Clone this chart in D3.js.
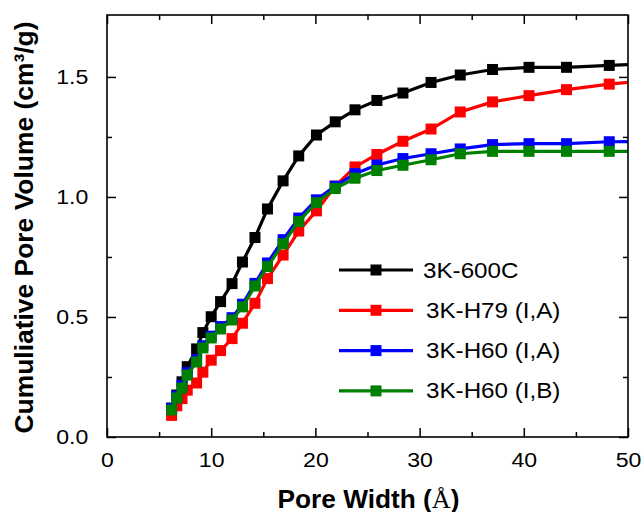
<!DOCTYPE html>
<html>
<head>
<meta charset="utf-8">
<script src="https://cdn.jsdelivr.net/npm/d3@7"></script>
<style>
  body { margin: 0; background: #fff; }
  svg { display: block; font-family: "Liberation Sans", Arial, sans-serif; }
</style>
</head>
<body>
<svg id="chart" width="643" height="512"></svg>
<script>
// pore width bins (Angstrom), shared by all samples
var poreWidth = [6.2, 6.7, 7.2, 7.7, 8.6, 9.2, 10.0, 10.9, 12.0, 13.0, 14.2, 15.4, 16.9, 18.4,
  20.1, 21.9, 23.8, 25.9, 28.4, 31.1, 33.9, 37.0, 40.5, 44.1, 48.2, 53.0];

var v600C = [0.12, 0.175, 0.23, 0.293, 0.367, 0.435, 0.501, 0.564, 0.639, 0.729, 0.831, 0.95, 1.067, 1.171,
  1.258, 1.313, 1.363, 1.402, 1.433, 1.477, 1.508, 1.531, 1.54, 1.54, 1.548, 1.556];
var vH79IA = [0.09, 0.13, 0.16, 0.195, 0.225, 0.27, 0.32, 0.36, 0.41, 0.474, 0.557, 0.66, 0.758, 0.858,
  0.942, 1.045, 1.125, 1.177, 1.232, 1.283, 1.354, 1.396, 1.422, 1.447, 1.47, 1.49];
var vH60IA = [0.12, 0.17, 0.215, 0.268, 0.322, 0.38, 0.42, 0.46, 0.497, 0.553, 0.64, 0.725, 0.822, 0.912,
  0.988, 1.045, 1.097, 1.133, 1.16, 1.18, 1.2, 1.218, 1.222, 1.222, 1.23, 1.232];
var vH60IB = [0.1125, 0.1625, 0.204, 0.258, 0.3125, 0.371, 0.4125, 0.45, 0.4875, 0.542, 0.629, 0.71, 0.805, 0.898,
  0.976, 1.035, 1.078, 1.11, 1.132, 1.155, 1.18, 1.19, 1.19, 1.19, 1.19, 1.19];

var seriesNames = ['3K-600C', '3K-H79 (I,A)', '3K-H60 (I,A)', '3K-H60 (I,B)'];
var seriesColors = ['#000000', '#ff0000', '#0000ff', '#008000'];
var seriesValues = [v600C, vH79IA, vH60IA, vH60IB];

var xTicks = [0, 10, 20, 30, 40, 50];
var xMinorTicks = [5, 15, 25, 35, 45];
var yTicks = [0, 0.5, 1.0, 1.5];
var yMinorTicks = [0.25, 0.75, 1.25];

var svg = d3.select('#chart');
var plotLeft = 107, plotRight = 628, plotTop = 15, plotBottom = 437;
var sx = 1.1; // the original text is a bit wide
var markerSize = 11;

var x = d3.scaleLinear().domain([0, 50]).range([plotLeft, plotRight]);
var y = d3.scaleLinear().domain([0, 1.758]).range([plotBottom, plotTop]);

svg.append('rect').attr('width', 643).attr('height', 512).attr('fill', '#fff');

svg.append('clipPath').attr('id', 'plotClip')
  .append('rect')
  .attr('x', plotLeft).attr('y', plotTop)
  .attr('width', plotRight - plotLeft).attr('height', plotBottom - plotTop);

// series
var plot = svg.append('g').attr('clip-path', 'url(#plotClip)');
var line = d3.line()
  .x(function(d) { return x(d.x); })
  .y(function(d) { return y(d.y); });

seriesValues.forEach(function(vals, i) {
  var pts = vals.map(function(v, j) { return {x: poreWidth[j], y: v}; });
  var g = plot.append('g');
  g.append('path')
    .datum(pts)
    .attr('d', line)
    .attr('fill', 'none')
    .attr('stroke', seriesColors[i])
    .attr('stroke-width', 3.2);
  g.selectAll('rect')
    .data(pts)
    .enter()
    .append('rect')
    .attr('x', function(d) { return x(d.x) - markerSize / 2; })
    .attr('y', function(d) { return y(d.y) - markerSize / 2; })
    .attr('width', markerSize)
    .attr('height', markerSize)
    .attr('fill', seriesColors[i]);
});

// axes: ticks point inwards on all four sides
function styleAxis(g) {
  g.select('.domain').remove();
  g.selectAll('line').attr('stroke', '#000').attr('stroke-width', 1.5);
  g.selectAll('text')
    .attr('fill', '#000')
    .style('font-size', '21px')
    .style('font-family', '"Liberation Sans", Arial, sans-serif');
}

svg.append('g')
  .attr('transform', 'translate(0,' + plotBottom + ')')
  .call(d3.axisBottom(x).tickValues(xTicks).tickSizeInner(-9).tickSizeOuter(0).tickPadding(15))
  .call(styleAxis)
  .call(function(g) {
    g.selectAll('text').attr('transform', 'scale(' + sx + ',1)');
  });
svg.append('g')
  .attr('transform', 'translate(0,' + plotBottom + ')')
  .call(d3.axisBottom(x).tickValues(xMinorTicks).tickSizeInner(-5).tickSizeOuter(0).tickFormat(''))
  .call(styleAxis);
svg.append('g')
  .attr('transform', 'translate(0,' + plotTop + ')')
  .call(d3.axisTop(x).tickValues(xTicks).tickSizeInner(-9).tickSizeOuter(0).tickFormat(''))
  .call(styleAxis);
svg.append('g')
  .attr('transform', 'translate(0,' + plotTop + ')')
  .call(d3.axisTop(x).tickValues(xMinorTicks).tickSizeInner(-5).tickSizeOuter(0).tickFormat(''))
  .call(styleAxis);

svg.append('g')
  .attr('transform', 'translate(' + plotLeft + ',0)')
  .call(d3.axisLeft(y).tickValues(yTicks).tickFormat(d3.format('.1f')).tickSizeInner(-9).tickSizeOuter(0).tickPadding(17))
  .call(styleAxis)
  .call(function(g) {
    g.selectAll('text').attr('transform', 'scale(' + sx + ',1)');
  });
svg.append('g')
  .attr('transform', 'translate(' + plotLeft + ',0)')
  .call(d3.axisLeft(y).tickValues(yMinorTicks).tickSizeInner(-5).tickSizeOuter(0).tickFormat(''))
  .call(styleAxis);
svg.append('g')
  .attr('transform', 'translate(' + plotRight + ',0)')
  .call(d3.axisRight(y).tickValues(yTicks).tickSizeInner(-9).tickSizeOuter(0).tickFormat(''))
  .call(styleAxis);
svg.append('g')
  .attr('transform', 'translate(' + plotRight + ',0)')
  .call(d3.axisRight(y).tickValues(yMinorTicks).tickSizeInner(-5).tickSizeOuter(0).tickFormat(''))
  .call(styleAxis);

svg.append('rect')
  .attr('x', plotLeft).attr('y', plotTop)
  .attr('width', plotRight - plotLeft).attr('height', plotBottom - plotTop)
  .attr('fill', 'none')
  .attr('stroke', '#000')
  .attr('stroke-width', 1.6);

// axis titles
var xTitle = svg.append('text')
  .attr('x', (plotLeft + plotRight) / 2 + 1)
  .attr('y', 508)
  .attr('text-anchor', 'middle')
  .attr('textLength', 182)
  .attr('lengthAdjust', 'spacingAndGlyphs')
  .style('font-size', '25px')
  .style('font-weight', 'bold');
xTitle.append('tspan').text('Pore Width (');
xTitle.append('tspan')
  .style('font-family', '"Liberation Serif", "Times New Roman", serif')
  .style('font-weight', 'normal')
  .text('Å');
xTitle.append('tspan').text(')');

svg.append('text')
  .attr('transform', 'translate(33,' + 227.5 + ') rotate(-90)')
  .attr('text-anchor', 'middle')
  .attr('textLength', 412)
  .attr('lengthAdjust', 'spacingAndGlyphs')
  .style('font-size', '25px')
  .style('font-weight', 'bold')
  .text('Cumuliative Pore Volume (cm³/g)');

// legend
var legend = svg.append('g');
seriesNames.forEach(function(name, i) {
  var ly = 270 + i * 40.3;
  legend.append('line')
    .attr('x1', 339).attr('x2', 413)
    .attr('y1', ly).attr('y2', ly)
    .attr('stroke', seriesColors[i])
    .attr('stroke-width', 3.2);
  legend.append('rect')
    .attr('x', 376 - 5.5).attr('y', ly - 5.5)
    .attr('width', 11).attr('height', 11)
    .attr('fill', seriesColors[i]);
  legend.append('text')
    .attr('transform', 'translate(' + (i == 0 ? 423 : 426) + ',' + (ly + 7.5) + ') scale(' + sx + ',1)')
    .style('font-size', '22px')
    .text(name);
});
</script>
</body>
</html>
